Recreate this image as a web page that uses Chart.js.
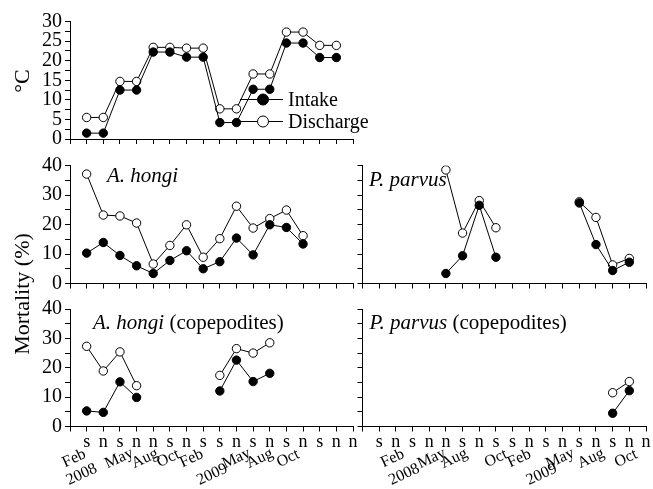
<!DOCTYPE html>
<html>
<head>
<meta charset="utf-8">
<script src="https://cdn.jsdelivr.net/npm/chart.js@4.4.1/dist/chart.umd.min.js"></script>
<style>
  body { margin: 0; background: #fff; }
  #wrap { position: relative; width: 653px; height: 489px; font-family: "Liberation Serif", serif; color: #000; }
  #wrap canvas { position: absolute; left: 0; top: 0; }
  .ytitle { position: absolute; width: 200px; height: 26px; line-height: 26px; text-align: center;
            font-size: 22px; transform: rotate(-90deg); white-space: nowrap; }
</style>
</head>
<body>
<div id="wrap">
  <canvas id="temp" width="653" height="489"></canvas>
  <canvas id="hongi" width="653" height="489"></canvas>
  <canvas id="parvus" width="653" height="489"></canvas>
  <canvas id="hongiCop" width="653" height="489"></canvas>
  <canvas id="parvusCop" width="653" height="489"></canvas>
  <div class="ytitle" style="left:-78px; top:68px;">°C</div>
  <div class="ytitle" style="left:-78px; top:281px;">Mortality (%)</div>
</div>
<script>
// sampling sequence along the x axis (positions 1..17)
const sampleTypes = ['s','n','s','n','n','s','n','s','s','n','s','n','s','n','s','n','n'];

// month / year labels under the bottom panels
const monthLabels = ['Feb','2008','May','Aug','Oct','Feb','2009','May','Aug','Oct'];
const monthRow = [0, 1, 0, 0, 0, 0, 1, 0, 0, 0];
const monthPosLeft = [0.25, 0.7, 2.95, 4.5, 5.9, 7.3, 8.55, 10.0, 11.4, 13.1];
const monthPosRight = [1.8, 2.5, 4.15, 5.5, 8.0, 9.4, 10.75, 11.85, 13.7, 15.8];

// water temperature (°C)
const tempIntake    = [1.5, 1.5, 12.5, 12.5, 22.2, 22.2, 20.9, 20.9, 4.2, 4.2, 12.7, 12.7, 24.5, 24.5, 20.8, 20.8];
const tempDischarge = [5.5, 5.5, 14.7, 14.7, 23.4, 23.4, 23.2, 23.2, 7.7, 7.7, 16.6, 16.6, 27.3, 27.3, 23.9, 23.9];

// mortality (%)
const hongiIntake    = [10.3, 13.9, 9.5, 6.0, 3.4, 7.8, 11.1, 5.0, 7.4, 15.4, 9.7, 19.9, 19.0, 13.4];
const hongiDischarge = [37.1, 23.2, 22.9, 20.5, 6.6, 12.9, 19.9, 8.9, 15.2, 26.2, 18.8, 22.0, 24.9, 16.2];

const parvusIntake    = [null, null, null, null, 3.4, 9.4, 26.5, 8.9, null, null, null, null, 27.3, 13.2, 4.4, 7.2];
const parvusDischarge = [null, null, null, null, 38.5, 17.1, 28.1, 18.9, null, null, null, null, 27.7, 22.4, 6.3, 8.5];

const hongiCopIntake    = [5.3, 4.8, 15.2, 9.9, null, null, null, null, 12.1, 22.6, 15.3, 18.1];
const hongiCopDischarge = [27.3, 18.9, 25.4, 13.9, null, null, null, null, 17.4, 26.5, 25.0, 28.5];

const parvusCopIntake    = [null, null, null, null, null, null, null, null, null, null, null, null, null, null, 4.5, 12.2];
const parvusCopDischarge = [null, null, null, null, null, null, null, null, null, null, null, null, null, null, 11.5, 15.3];

Chart.defaults.font.family = '"Liberation Serif", serif';
Chart.defaults.font.size = 20;
Chart.defaults.color = '#000';

const Y_W = 40;   // fixed y axis width
const X_H = 30;   // fixed x axis height

function toPoints(arr) {
  return arr.map((v, i) => ({ x: i + 1, y: v }));
}

function series(values, fill) {
  return {
    data: toPoints(values),
    borderColor: '#000',
    borderWidth: 1,
    backgroundColor: fill,
    pointBackgroundColor: fill,
    pointBorderColor: '#000',
    pointBorderWidth: 1,
    pointRadius: 4.2,
    tension: 0,
    spanGaps: false
  };
}

// italic species name plus optional plain suffix, drawn inside the plot
const panelTitle = {
  id: 'panelTitle',
  afterDraw(chart, args, opts) {
    if (!opts.parts) return;
    const ctx = chart.ctx;
    const area = chart.chartArea;
    let x = area.left + opts.dx;
    const y = area.top + opts.dy;
    ctx.save();
    ctx.fillStyle = '#000';
    ctx.textBaseline = 'alphabetic';
    ctx.textAlign = 'left';
    opts.parts.forEach(p => {
      ctx.font = (p.italic ? 'italic ' : '') + '21px "Liberation Serif"';
      ctx.fillText(p.text, x, y);
      x += ctx.measureText(p.text).width;
    });
    ctx.restore();
  }
};

// slanted month labels placed along the x scale
const monthAxis = {
  id: 'monthAxis',
  afterDraw(chart, args, opts) {
    if (!opts.pos) return;
    const ctx = chart.ctx;
    const xs = chart.scales.x;
    const bottom = chart.chartArea.bottom;
    ctx.save();
    ctx.fillStyle = '#000';
    ctx.font = '16px "Liberation Serif"';
    ctx.textAlign = 'center';
    ctx.textBaseline = 'middle';
    monthLabels.forEach((label, i) => {
      const x = xs.getPixelForValue(opts.pos[i]);
      const y = bottom + (monthRow[i] ? 48 : 32);
      ctx.save();
      ctx.translate(x, y);
      ctx.rotate(-25 * Math.PI / 180);
      ctx.fillText(label, 0, 0);
      ctx.restore();
    });
    ctx.restore();
  }
};

// in-plot legend for the temperature panel
const tempLegend = {
  id: 'tempLegend',
  afterDraw(chart, args, opts) {
    if (!opts.show) return;
    const ctx = chart.ctx;
    const area = chart.chartArea;
    const entries = [['Intake', '#000', 78], ['Discharge', '#fff', 100]];
    ctx.save();
    entries.forEach(([label, fill, dy]) => {
      const y = area.top + dy;
      const x0 = area.left + 170;
      ctx.strokeStyle = '#000';
      ctx.lineWidth = 1;
      ctx.beginPath();
      ctx.moveTo(x0, y);
      ctx.lineTo(x0 + 43, y);
      ctx.stroke();
      ctx.beginPath();
      ctx.arc(x0 + 23, y, 5.5, 0, Math.PI * 2);
      ctx.fillStyle = fill;
      ctx.fill();
      ctx.stroke();
      ctx.fillStyle = '#000';
      ctx.font = '20px "Liberation Serif"';
      ctx.textAlign = 'left';
      ctx.textBaseline = 'middle';
      ctx.fillText(label, x0 + 48, y + 1);
    });
    ctx.restore();
  }
};

function panel(id, area, cfg) {
  const yTicks = [];
  for (let v = 0; v <= cfg.ymax + 1e-9; v += cfg.minor) yTicks.push(v);
  const xTicks = [];
  for (let v = 0; v <= 17; v++) xTicks.push(v);

  return new Chart(document.getElementById(id), {
    type: 'line',
    data: { datasets: [series(cfg.intake, '#000'), series(cfg.discharge, '#fff')] },
    options: {
      responsive: false,
      animation: false,
      events: [],
      layout: {
        padding: {
          left: area.left - Y_W,
          top: area.top,
          right: 653 - area.right,
          bottom: 489 - area.bottom - X_H
        }
      },
      plugins: {
        legend: { display: false },
        tooltip: { enabled: false },
        panelTitle: cfg.title || {},
        monthAxis: { pos: cfg.months },
        tempLegend: { show: !!cfg.legend }
      },
      scales: {
        x: {
          type: 'linear',
          min: 0,
          max: 17,
          afterBuildTicks: axis => { axis.ticks = xTicks.map(v => ({ value: v })); },
          afterFit: axis => { axis.height = X_H; },
          ticks: {
            autoSkip: false,
            maxRotation: 0,
            padding: 0,
            font: { size: 18 },
            callback: v => (cfg.xLabels && v >= 1) ? sampleTypes[v - 1] : ''
          },
          grid: { drawOnChartArea: false, tickLength: 5, color: '#000' },
          border: { color: '#000', width: 1 }
        },
        y: {
          min: 0,
          max: cfg.ymax,
          afterBuildTicks: axis => { axis.ticks = yTicks.map(v => ({ value: v })); },
          afterFit: axis => { axis.width = Y_W; },
          ticks: {
            autoSkip: false,
            padding: 3,
            callback: v => (cfg.yLabels && Math.abs(v % cfg.major) < 1e-9) ? String(v) : ''
          },
          grid: { drawOnChartArea: false, tickLength: 5, color: '#000' },
          border: { color: '#000', width: 1 }
        }
      }
    },
    plugins: [panelTitle, monthAxis, tempLegend]
  });
}

panel('temp', { left: 70, right: 353, top: 21.5, bottom: 139 }, {
  intake: tempIntake, discharge: tempDischarge,
  ymax: 30, major: 5, minor: 2.5, yLabels: true, legend: true
});

panel('hongi', { left: 70, right: 353, top: 165.5, bottom: 283.5 }, {
  intake: hongiIntake, discharge: hongiDischarge,
  ymax: 40, major: 10, minor: 5, yLabels: true,
  title: { dx: 37, dy: 16, parts: [{ text: 'A. hongi', italic: true }] }
});

panel('parvus', { left: 362.5, right: 646, top: 165.5, bottom: 283.5 }, {
  intake: parvusIntake, discharge: parvusDischarge,
  ymax: 40, major: 10, minor: 5, yLabels: false,
  title: { dx: 6.5, dy: 20, parts: [{ text: 'P. parvus', italic: true }] }
});

panel('hongiCop', { left: 70, right: 353, top: 309, bottom: 426.5 }, {
  intake: hongiCopIntake, discharge: hongiCopDischarge,
  ymax: 40, major: 10, minor: 5, yLabels: true, xLabels: true, months: monthPosLeft,
  title: { dx: 23, dy: 20, parts: [{ text: 'A. hongi', italic: true }, { text: ' (copepodites)' }] }
});

panel('parvusCop', { left: 362.5, right: 646, top: 309, bottom: 426.5 }, {
  intake: parvusCopIntake, discharge: parvusCopDischarge,
  ymax: 40, major: 10, minor: 5, yLabels: false, xLabels: true, months: monthPosRight,
  title: { dx: 7, dy: 20, parts: [{ text: 'P. parvus', italic: true }, { text: ' (copepodites)' }] }
});
</script>
</body>
</html>
